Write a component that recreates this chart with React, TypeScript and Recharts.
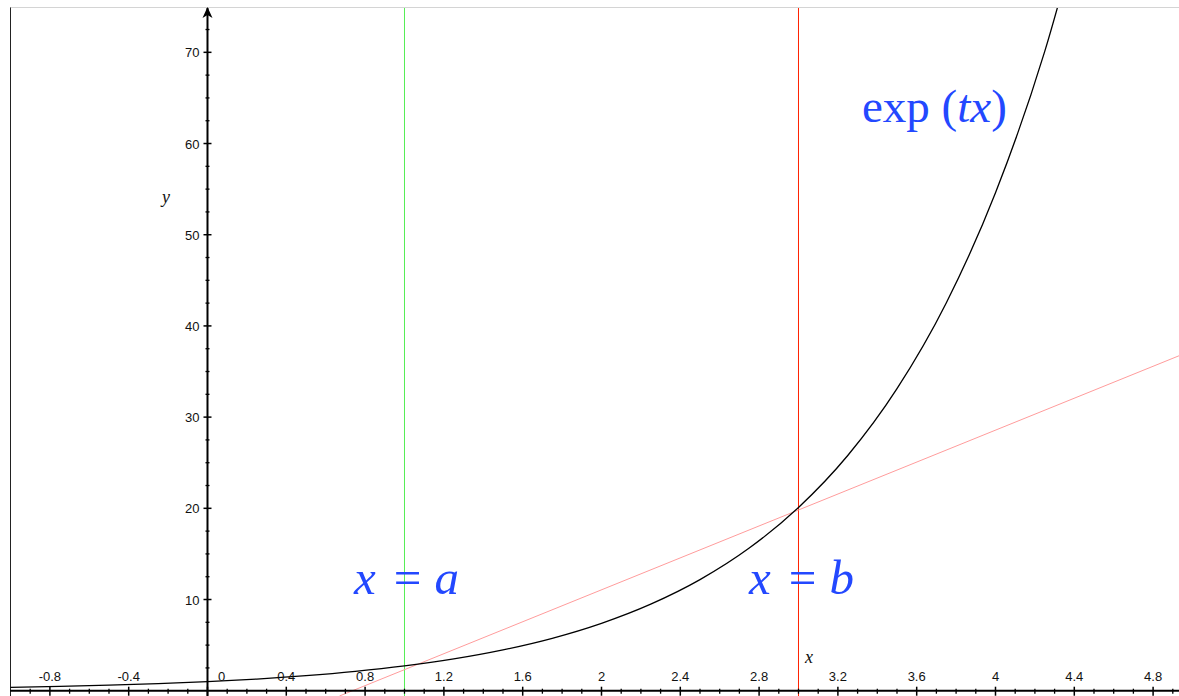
import { ComposedChart, Line, XAxis, YAxis, ReferenceLine, ReferenceDot } from "recharts";

// points
const curveX = [-1, -0.75, -0.5, -0.25, 0, 0.25, 0.5, 0.75, 1, 1.25, 1.5, 1.75, 2, 2.25, 2.5, 2.75, 3, 3.25, 3.5, 3.75, 4, 4.25, 4.5];
const curveY = [0.37, 0.47, 0.61, 0.78, 1, 1.28, 1.65, 2.12, 2.72, 3.49, 4.48, 5.75, 7.39, 9.49, 12.18, 15.64, 20.09, 25.79, 33.12, 42.52, 54.6, 70.1, 90.0];

// pink chord through the two marked points
const chordX = [0.67, 4.94];
const chordY = [-0.58, 36.8];

const lineA = 1;
const lineB = 3;

const xTickValues = [-0.8, -0.4, 0, 0.4, 0.8, 1.2, 1.6, 2, 2.4, 2.8, 3.2, 3.6, 4, 4.4, 4.8];
const xTickLabels = ["-0.8", "-0.4", "0", "0.4", "0.8", "1.2", "1.6", "2", "2.4", "2.8", "3.2", "3.6", "4", "4.4", "4.8"];
const yTickValues = [10, 20, 30, 40, 50, 60, 70];
const yTickLabels = ["10", "20", "30", "40", "50", "60", "70"];

const X_DOMAIN: [number, number] = [-1.0025, 4.9315];
const Y_DOMAIN: [number, number] = [-0.58, 74.86];

const xMinor: number[] = [];
for (let i = -9; i <= 49; i++) if (i % 4 !== 0) xMinor.push(i / 10);
const yMinor: number[] = [];
for (let i = 1; i <= 29; i++) if (i % 4 !== 0) yMinor.push(i * 2.5);

const data = curveX.map((x, i) => ({ x, y: curveY[i] }));

const BLUE = "#2348ff";
const SANS = "'Liberation Sans', Arial, sans-serif";
const SERIF = "'Liberation Serif', 'Times New Roman', serif";

export default function App() {
  return (
    <div style={{ position: "absolute", left: 0, top: 0, width: 1179, height: 696, background: "#fff" }}>
      <div
        style={{
          position: "absolute",
          left: 10,
          top: 7,
          width: 1169,
          height: 689,
          borderLeft: "1px solid #222",
          borderTop: "1px solid #d4d4d4",
          boxSizing: "border-box",
        }}
      />
      <ComposedChart width={1179} height={696} data={data} margin={{ top: 8, right: 0, bottom: 0, left: 10 }} style={{ position: "absolute", left: 0, top: 0 }}>
        <XAxis dataKey="x" type="number" domain={X_DOMAIN} allowDataOverflow hide />
        <YAxis type="number" domain={Y_DOMAIN} allowDataOverflow hide />

        <ReferenceLine x={lineA} stroke="#55ee55" strokeWidth={1} />
        <ReferenceLine x={lineB} stroke="#ff2200" strokeWidth={1} />
        <ReferenceLine
          segment={[
            { x: chordX[0], y: chordY[0] },
            { x: chordX[1], y: chordY[1] },
          ]}
          stroke="#ff9c9c"
          strokeWidth={1}
          ifOverflow="visible"
        />

        {/* axes through the origin */}
        <ReferenceLine y={0} stroke="#000" strokeWidth={2} />
        <ReferenceLine x={0} stroke="#000" strokeWidth={2} />
        <ReferenceDot
          x={0}
          y={Y_DOMAIN[1]}
          ifOverflow="visible"
          shape={(p: any) => (
            <polygon points={`${p.cx},${p.cy - 1} ${p.cx + 5},${p.cy + 10} ${p.cx},${p.cy + 7} ${p.cx - 5},${p.cy + 10}`} fill="#000" />
          )}
        />

        {xMinor.map((v) => (
          <ReferenceDot
            key={`xm${v}`}
            x={v}
            y={0}
            ifOverflow="visible"
            shape={(p: any) => <line x1={p.cx} x2={p.cx} y1={p.cy - 2} y2={p.cy + 3} stroke="#000" strokeWidth={1.3} />}
          />
        ))}
        {xTickValues.map((v, i) => (
          <ReferenceDot
            key={`xt${v}`}
            x={v}
            y={0}
            ifOverflow="visible"
            shape={(p: any) => (
              <g>
                <line x1={p.cx} x2={p.cx} y1={p.cy - 4} y2={p.cy + 5} stroke="#000" strokeWidth={1.5} />
                <text x={p.cx + (v === 0 ? 14 : 0)} y={p.cy - 10} textAnchor="middle" fontFamily={SANS} fontSize={13} fill="#111">
                  {xTickLabels[i]}
                </text>
              </g>
            )}
          />
        ))}
        {yMinor.map((v) => (
          <ReferenceDot
            key={`ym${v}`}
            x={0}
            y={v}
            ifOverflow="visible"
            shape={(p: any) => <line x1={p.cx - 2} x2={p.cx + 2} y1={p.cy} y2={p.cy} stroke="#000" strokeWidth={1.3} />}
          />
        ))}
        {yTickValues.map((v, i) => (
          <ReferenceDot
            key={`yt${v}`}
            x={0}
            y={v}
            ifOverflow="visible"
            shape={(p: any) => (
              <g>
                <line x1={p.cx - 4} x2={p.cx + 4} y1={p.cy} y2={p.cy} stroke="#000" strokeWidth={1.5} />
                <text x={p.cx - 8} y={p.cy + 5} textAnchor="end" fontFamily={SANS} fontSize={13} fill="#111">
                  {yTickLabels[i]}
                </text>
              </g>
            )}
          />
        ))}

        <Line dataKey="y" type="monotone" stroke="#000" strokeWidth={1.3} dot={false} isAnimationActive={false} />
      </ComposedChart>

      <svg width={1179} height={696} style={{ position: "absolute", left: 0, top: 0, pointerEvents: "none" }}>
        <text x={162} y={203} fontFamily={SERIF} fontStyle="italic" fontSize={18} fill="#111">y</text>
        <text x={805} y={663} fontFamily={SERIF} fontStyle="italic" fontSize={18} fill="#111">x</text>

        <text x={862} y={122} fontFamily={SERIF} fontSize={47} fill={BLUE}>
          exp (<tspan fontStyle="italic">tx</tspan>)
        </text>
        <text x={354} y={594} fontFamily={SERIF} fontSize={49} fill={BLUE}>
          <tspan fontStyle="italic">x</tspan>
          <tspan dx={18}>=</tspan>
          <tspan dx={13} fontStyle="italic">a</tspan>
        </text>
        <text x={749} y={594} fontFamily={SERIF} fontSize={49} fill={BLUE}>
          <tspan fontStyle="italic">x</tspan>
          <tspan dx={18}>=</tspan>
          <tspan dx={13} fontStyle="italic">b</tspan>
        </text>
      </svg>
    </div>
  );
}
